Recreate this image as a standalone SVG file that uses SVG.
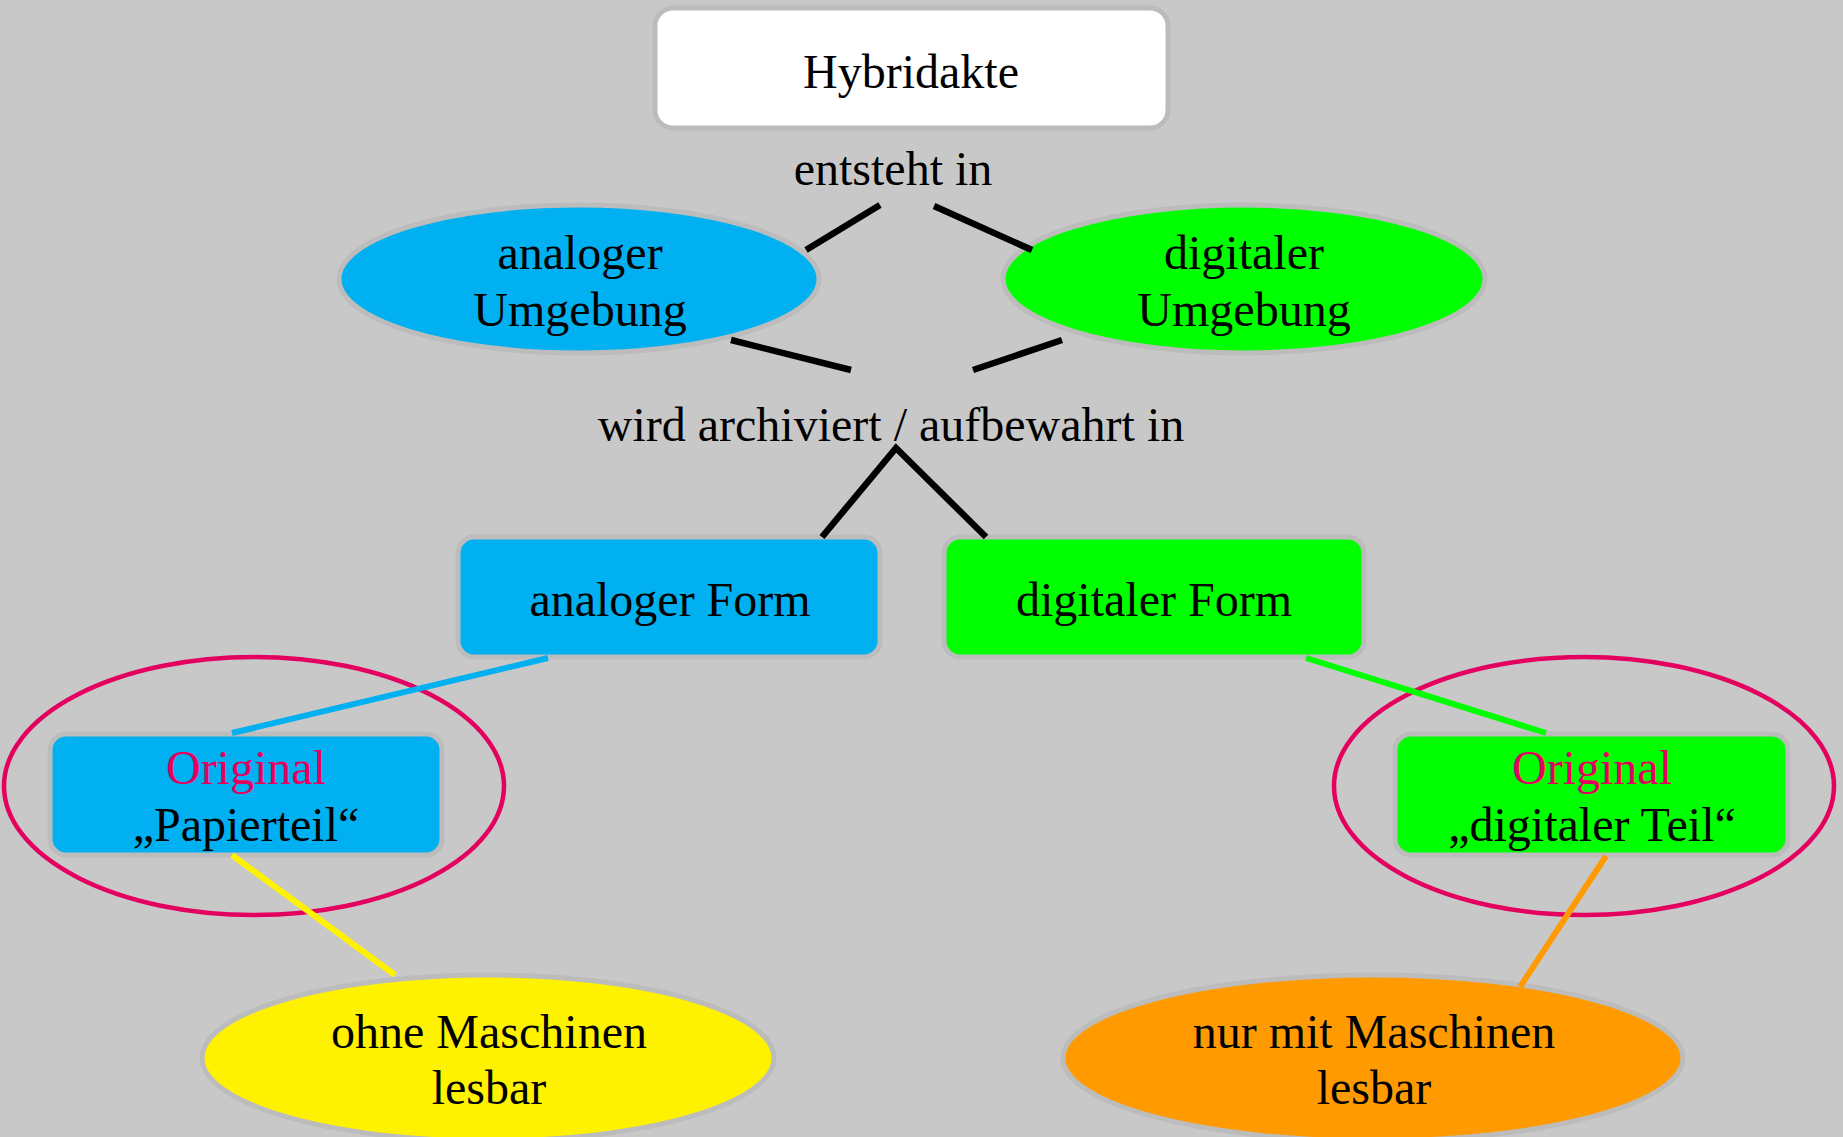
<svg xmlns="http://www.w3.org/2000/svg" width="1843" height="1137" viewBox="0 0 1843 1137">
<style>
.t{font-family:"Liberation Serif","Times New Roman",serif;font-size:48px;fill:#000;text-anchor:middle}
.m{fill:#e4005f}
.nb{stroke:#bcbcbc;stroke-width:5}
.blk{stroke:#000;stroke-width:6.5;fill:none}
.ring{fill:none;stroke:#e4005f;stroke-width:4.5}
</style>
<rect width="1843" height="1137" fill="#c8c8c8"/>
<g id="hybridakte">
<rect class="nb" x="655" y="8" width="513" height="120" rx="18" fill="#fff"/>
<text class="t" x="911" y="88">Hybridakte</text>
</g>
<g id="entsteht">
<text class="t" x="893" y="185">entsteht in</text>
</g>
<g id="analog-umgebung">
<ellipse class="nb" cx="579" cy="279" rx="240" ry="74" fill="#00b0f0"/>
<text class="t" x="580" y="269">analoger</text>
<text class="t" x="580" y="326">Umgebung</text>
</g>
<g id="digital-umgebung">
<ellipse class="nb" cx="1244" cy="279" rx="241" ry="74" fill="#00ff00"/>
<text class="t" x="1244" y="269">digitaler</text>
<text class="t" x="1244" y="326">Umgebung</text>
</g>
<g id="archiviert">
<text class="t" x="891" y="441">wird archiviert / aufbewahrt in</text>
</g>
<g id="analog-form">
<rect class="nb" x="458" y="537" width="422" height="120" rx="16" fill="#00b0f0"/>
<text class="t" x="670" y="616">analoger Form</text>
</g>
<g id="digital-form">
<rect class="nb" x="944" y="537" width="420" height="120" rx="16" fill="#00ff00"/>
<text class="t" x="1154" y="616">digitaler Form</text>
</g>
<g id="papierteil">
<rect class="nb" x="50" y="734" width="392" height="121" rx="16" fill="#00b0f0"/>
<text class="t m" x="246" y="784">Original</text>
<text class="t" x="246" y="841">„Papierteil“</text>
<ellipse class="ring" cx="254" cy="786" rx="250" ry="129"/>
</g>
<g id="digitaler-teil">
<rect class="nb" x="1395" y="734" width="393" height="121" rx="16" fill="#00ff00"/>
<text class="t m" x="1592" y="784">Original</text>
<text class="t" x="1592" y="841">„digitaler Teil“</text>
<ellipse class="ring" cx="1584" cy="786" rx="250" ry="129"/>
</g>
<g id="ohne-maschinen">
<ellipse class="nb" cx="488" cy="1058" rx="286" ry="83" fill="#fff200"/>
<text class="t" x="489" y="1048">ohne Maschinen</text>
<text class="t" x="489" y="1104">lesbar</text>
</g>
<g id="mit-maschinen">
<ellipse class="nb" cx="1373" cy="1058" rx="310" ry="83" fill="#ff9a00"/>
<text class="t" x="1374" y="1048">nur mit Maschinen</text>
<text class="t" x="1374" y="1104">lesbar</text>
</g>
<g id="connectors">
<line class="blk" x1="806" y1="250" x2="880" y2="205"/>
<line class="blk" x1="934" y1="206" x2="1032" y2="250"/>
<line class="blk" x1="731" y1="340" x2="851" y2="370"/>
<line class="blk" x1="973" y1="370" x2="1062" y2="340"/>
<polyline class="blk" points="822,537 896,448 986,537"/>
<line x1="548" y1="658" x2="232" y2="733" stroke="#00b0f0" stroke-width="6"/>
<line x1="1306" y1="658" x2="1546" y2="733" stroke="#00ff00" stroke-width="6"/>
<line x1="232" y1="855" x2="395" y2="975" stroke="#fff200" stroke-width="6"/>
<line x1="1606" y1="856" x2="1520" y2="987" stroke="#ff9a00" stroke-width="6"/>
</g>
</svg>
